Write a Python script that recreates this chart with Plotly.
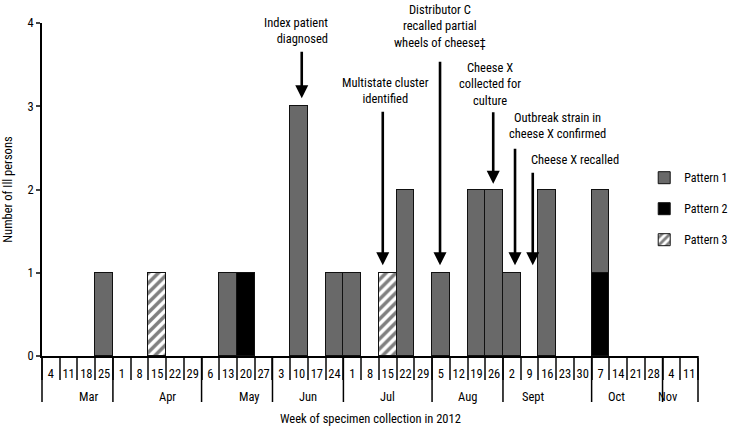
import plotly.graph_objects as go

months = ["Mar"]*4 + ["Apr"]*5 + ["May"]*4 + ["Jun"]*4 + ["Jul"]*5 + ["Aug"]*4 + ["Sept"]*5 + ["Oct"]*4 + ["Nov"]*2
weeks = ["4", "11", "18", "25", "1", "8", "15", "22", "29", "6", "13", "20", "27",
         "3", "10", "17", "24", "1", "8", "15", "22", "29", "5", "12", "19", "26",
         "2", "9", "16", "23", "30", "7", "14", "21", "28", "4", "11"]

pattern1 = [None, None, None, 1, None, None, None, None, None, None, 1, None, None,
            None, 3, None, 1, 1, None, None, 2, None, 1, None, 2, 2,
            1, None, 2, None, None, 1, None, None, None, None, None]
pattern2 = [None]*11 + [1] + [None]*19 + [1] + [None]*5
pattern3 = [None]*6 + [1] + [None]*12 + [1] + [None]*17

FONT = "Liberation Sans Narrow, Arial Narrow, Roboto Condensed, sans-serif"
FS = 12.5

# unique category ids (month + week), labelled by week on the axis
cats = [f"{m} {w}" for m, w in zip(months, weeks)]
n = len(cats)

fig = go.Figure()
line = dict(color="#111111", width=1)
fig.add_trace(go.Bar(x=cats, y=pattern2, name="Pattern 2", legendrank=2, legendgroup="p2",
                     marker=dict(color="#000000", line=line)))
fig.add_trace(go.Bar(x=cats, y=pattern1, name="Pattern 1", legendrank=1, legendgroup="p1",
                     marker=dict(color="#696969", line=line)))
fig.add_trace(go.Bar(x=cats, y=pattern3, name="Pattern 3", legendrank=3, legendgroup="p3",
                     marker=dict(color="white", line=line,
                                 pattern=dict(shape="/", fgcolor="black", bgcolor="white",
                                              size=7, solidity=0.5))))

# annotation texts and arrows: (text, text_x_idx, text_y, xanchor, align, arrow_x_idx, head_y, tail_offset_px)
notes = [
    ("Index patient<br>diagnosed", 15.74, 3.912, "right", "right", 14.15, 3.096, -48),
    ("Multistate cluster<br>identified", 18.87, 3.188, "center", "center", 18.72, 1.09, -155),
    ("Distributor C<br>recalled partial<br>wheels of cheese‡", 21.95, 3.97, "center", "center", 21.95, 1.09, -205),
    ("Cheese X<br>collected for<br>culture", 24.77, 3.27, "center", "center", 24.95, 2.07, -73),
    ("Outbreak strain in<br>cheese X confirmed", 28.6, 2.772, "center", "center", 26.18, 1.09, -118),
    ("Cheese X recalled", 29.59, 2.364, "center", "center", 27.18, 1.09, -94),
]
for text, tx, ty, xa, al, axx, hy, off in notes:
    fig.add_annotation(x=tx, y=ty, text=text, showarrow=False, xanchor=xa, yanchor="middle",
                       align=al, font=dict(family=FONT, size=FS, color="black"))
    fig.add_annotation(x=axx, y=hy, text="", showarrow=True, ax=0, ay=off,
                       arrowhead=2, arrowsize=1, arrowwidth=2.6, arrowcolor="black", standoff=0)

# month group labels and dividers, derived from the months list
groups = []
for i, m in enumerate(months):
    if not groups or groups[-1][0] != m:
        groups.append([m, i, 1])
    else:
        groups[-1][2] += 1
PLOT_H = 428 - 23 - 72
for m, start, count in groups:
    fig.add_annotation(x=(start + count / 2) / n, xref="paper", y=0, yref="paper",
                       yshift=-40, text=m, showarrow=False, yanchor="middle",
                       font=dict(family=FONT, size=FS, color="black"))
bounds = [g[1] for g in groups] + [n]
for b in bounds:
    fig.add_shape(type="line", xref="paper", yref="paper", x0=b / n, x1=b / n,
                  y0=0, y1=-46 / PLOT_H, line=dict(color="black", width=1.5))

# x-axis title
fig.add_annotation(x=0.5, xref="paper", y=0, yref="paper", yshift=-62,
                   text="Week of specimen collection in 2012", showarrow=False,
                   yanchor="middle", font=dict(family=FONT, size=FS, color="black"))

fig.update_layout(
    width=732, height=428,
    margin=dict(l=42, r=34, t=23, b=72, autoexpand=False),
    paper_bgcolor="white", plot_bgcolor="white",
    barmode="stack", bargap=0,
    font=dict(family=FONT, size=FS, color="black"),
    legend=dict(x=0.918, y=0.579, xanchor="left", yanchor="top", traceorder="grouped",
                tracegroupgap=12, font=dict(size=12), itemwidth=30),
    showlegend=True,
)
fig.update_yaxes(range=[0, 4], dtick=1, ticks="outside", ticklen=4, tickwidth=1.5,
                 showline=True, linecolor="black", linewidth=1.5, showgrid=False,
                 zeroline=False, automargin=False,
                 title=dict(text="Number of Ill persons", standoff=14, font=dict(size=FS)))
fig.update_xaxes(type="category", categoryorder="array", categoryarray=cats,
                 tickmode="array", tickvals=cats, ticktext=weeks,
                 showline=True, linecolor="black", linewidth=1.5,
                 ticks="outside", tickson="boundaries", ticklen=22, tickwidth=1.5,
                 tickangle=0, automargin=False, ticklabelstandoff=5, showgrid=False)

fig.write_html("out.html", post_script="document.body.style.margin='0';",
               config={"displayModeBar": False})
